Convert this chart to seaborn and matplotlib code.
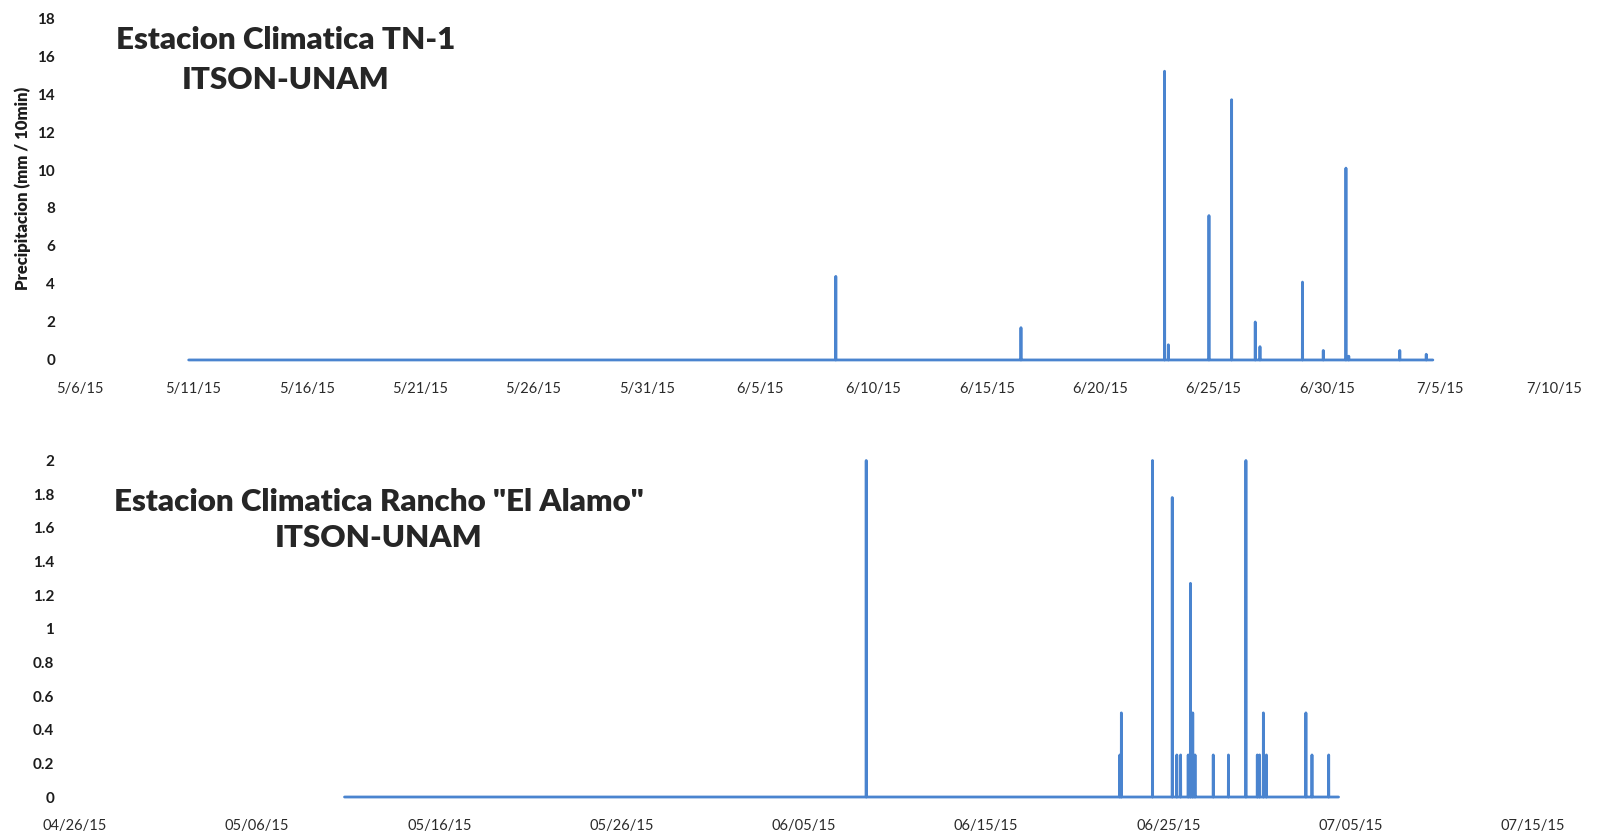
from datetime import datetime

import numpy as np
import pandas as pd
import matplotlib
matplotlib.use("Agg")
import matplotlib.pyplot as plt
import seaborn as sns

# ---------------------------------------------------------------------------
# Estacion Climatica TN-1 (ITSON-UNAM): 10-minute precipitation record
# ---------------------------------------------------------------------------
tn1_record = ("2015-05-10 19:00", "2015-07-04 16:00")
tn1_times = [
    "2015-06-08 08:00", "2015-06-16 12:00", "2015-06-22 20:00",
    "2015-06-23 00:00", "2015-06-24 19:00", "2015-06-25 19:00",
    "2015-06-26 20:00", "2015-06-27 01:00", "2015-06-28 22:00",
    "2015-06-29 20:00", "2015-06-30 20:00", "2015-06-30 23:00",
    "2015-07-03 05:00", "2015-07-04 09:00",
]
tn1_mm = [4.4, 1.7, 15.2, 0.8, 7.6, 13.7, 2.0, 0.7, 4.1, 0.5, 10.1, 0.2, 0.5, 0.3]
tn1_xticks = ["5/6/15", "5/11/15", "5/16/15", "5/21/15", "5/26/15", "5/31/15",
              "6/5/15", "6/10/15", "6/15/15", "6/20/15", "6/25/15", "6/30/15",
              "7/5/15", "7/10/15"]
tn1_yticks = [0, 2, 4, 6, 8, 10, 12, 14, 16, 18]

# ---------------------------------------------------------------------------
# Estacion Climatica Rancho "El Alamo" (ITSON-UNAM): 10-minute precipitation
# ---------------------------------------------------------------------------
alamo_record = ("2015-05-10 19:00", "2015-07-04 08:00")
alamo_times = [
    "2015-06-08 10:00", "2015-06-22 08:00", "2015-06-22 10:00",
    "2015-06-24 03:00", "2015-06-25 05:00", "2015-06-25 11:00",
    "2015-06-25 16:00", "2015-06-26 02:00", "2015-06-26 05:00",
    "2015-06-26 08:00", "2015-06-26 11:00", "2015-06-27 11:00",
    "2015-06-28 07:00", "2015-06-29 06:00", "2015-06-29 21:00",
    "2015-06-30 00:00", "2015-06-30 05:00", "2015-06-30 09:00",
    "2015-07-02 13:00", "2015-07-02 21:00", "2015-07-03 19:00",
]
alamo_mm = [2.0, 0.25, 0.5, 2.0, 1.78, 0.25, 0.25, 0.25, 1.27, 0.5, 0.25, 0.25,
            0.25, 2.0, 0.25, 0.25, 0.5, 0.25, 0.5, 0.25, 0.25]
alamo_xticks = ["04/26/15", "05/06/15", "05/16/15", "05/26/15", "06/05/15",
                "06/15/15", "06/25/15", "07/05/15", "07/15/15"]
alamo_yticks = [0, 0.2, 0.4, 0.6, 0.8, 1, 1.2, 1.4, 1.6, 1.8, 2]
alamo_ytick_labels = ["0", "0.2", "0.4", "0.6", "0.8", "1", "1.2", "1.4",
                      "1.6", "1.8", "2"]

BLUE = "#4a84cf"
INK = "#1c1c1c"


def ten_minute_series(record, times, values):
    """Full 10-minute series: zero rain except at the recorded events."""
    idx = pd.date_range(record[0], record[1], freq="10min")
    s = pd.Series(0.0, index=idx)
    s.loc[pd.to_datetime(times)] = values
    return pd.DataFrame({"fecha": idx, "mm": s.values})


def parse_ticks(labels):
    return [datetime.strptime(t, "%m/%d/%y") for t in labels]


sns.set_theme(style="white")
plt.rcParams["font.family"] = ["Lato", "DejaVu Sans"]

fig = plt.figure(figsize=(16.01, 8.35), dpi=100)
ax1 = fig.add_axes([0.0500, 0.5689, 0.9205, 0.4095])
ax2 = fig.add_axes([0.0468, 0.0455, 0.9107, 0.4030])

df_tn1 = ten_minute_series(tn1_record, tn1_times, tn1_mm)
df_alamo = ten_minute_series(alamo_record, alamo_times, alamo_mm)

sns.lineplot(data=df_tn1, x="fecha", y="mm", ax=ax1, color=BLUE,
             linewidth=2.0, estimator=None)
sns.lineplot(data=df_alamo, x="fecha", y="mm", ax=ax2, color=BLUE,
             linewidth=2.0, estimator=None)

for ax in (ax1, ax2):
    for ln in ax.lines:
        ln.set_clip_on(False)
    sns.despine(ax=ax, left=True, bottom=True)
    ax.set_xlabel("")
    ax.set_ylabel("")
    ax.grid(False)
    ax.set_facecolor("white")

# Top panel axes
tn1_dates = parse_ticks(tn1_xticks)
ax1.set_xlim(tn1_dates[0], tn1_dates[-1])
ax1.set_xticks(tn1_dates)
ax1.set_xticklabels(tn1_xticks, fontsize=10.5, color="#2a2a2a")
ax1.set_ylim(0, 18)
ax1.set_yticks(tn1_yticks)
ax1.set_yticklabels([str(v) for v in tn1_yticks], fontsize=11,
                    fontweight="bold", color=INK)
ax1.tick_params(axis="x", length=0, pad=16)
ax1.tick_params(axis="y", length=0, pad=18)

# Bottom panel axes
alamo_dates = parse_ticks(alamo_xticks)
ax2.set_xlim(alamo_dates[0], alamo_dates[-1])
ax2.set_xticks(alamo_dates)
ax2.set_xticklabels(alamo_xticks, fontsize=10.5, color="#2a2a2a")
ax2.set_ylim(0, 2)
ax2.set_yticks(alamo_yticks)
ax2.set_yticklabels(alamo_ytick_labels, fontsize=11, fontweight="bold",
                    color=INK)
ax2.tick_params(axis="x", length=0, pad=16)
ax2.tick_params(axis="y", length=0, pad=15)

# Y axis title of the upper chart
fig.text(22.5 / 1601, 1 - 188 / 835, "Precipitacion (mm / 10min)",
         rotation=90, ha="center", va="center", fontsize=12,
         fontweight="heavy", color=INK)

# Station titles written inside the plot areas
title_kw = dict(ha="center", va="center", fontsize=22.5, fontweight="heavy",
                color="#262626")
fig.text(285.5 / 1601, 1 - 40 / 835, "Estacion Climatica TN-1", **title_kw)
fig.text(285.5 / 1601, 1 - 80 / 835, "ITSON-UNAM", **title_kw)
fig.text(379 / 1601, 1 - 502 / 835, "Estacion Climatica Rancho \"El Alamo\"",
         **title_kw)
fig.text(379 / 1601, 1 - 538 / 835, "ITSON-UNAM", **title_kw)

fig.savefig("out.png", dpi=100, facecolor="white")
